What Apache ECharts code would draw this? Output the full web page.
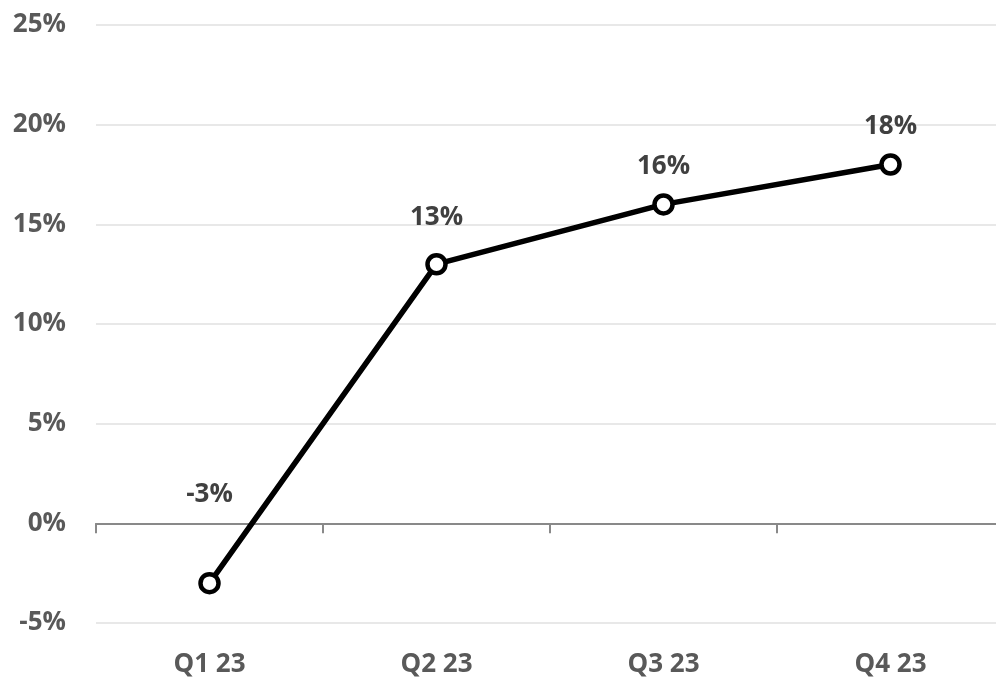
<!DOCTYPE html>
<html>
<head>
<meta charset="utf-8">
<script src="https://cdn.jsdelivr.net/npm/echarts@6/dist/echarts.min.js"></script>
<style>
  html, body { margin: 0; padding: 0; background: #fff; }
  #main { width: 996px; height: 680px; }
</style>
</head>
<body>
<div id="main"></div>
<script>
const categories = ['Q1 23', 'Q2 23', 'Q3 23', 'Q4 23'];
const growth = [-3, 13, 16, 18];
// extra label gap above a point (px)
const labelGaps = [64, 22, 14, 14];

const font = '"Open Sans", "DejaVu Sans", sans-serif';

const chart = echarts.init(document.getElementById('main'));

chart.setOption({
  animation: false,
  grid: { left: 96, right: -8, top: 25, bottom: 57, outerBoundsMode: 'none' },
  xAxis: [{
    type: 'category',
    data: categories,
    axisLine: { onZero: true, lineStyle: { color: '#898989', width: 2 } },
    axisTick: { show: true, length: 10, lineStyle: { color: '#898989', width: 2 } },
    axisLabel: { show: false },
    splitLine: { show: false }
  }, {
    type: 'category',
    data: categories,
    position: 'bottom',
    axisLine: { show: false },
    axisTick: { show: false },
    axisLabel: {
      margin: 29,
      color: '#595959',
      fontFamily: font,
      fontWeight: 'bold',
      fontSize: 26
    }
  }],
  yAxis: {
    type: 'value',
    min: -5,
    max: 25,
    interval: 5,
    axisLine: { show: false },
    axisTick: { show: false },
    axisLabel: {
      margin: 30,
      color: '#595959',
      fontFamily: font,
      fontWeight: 'bold',
      fontSize: 26,
      formatter: v => v + '%'
    },
    splitLine: { lineStyle: { color: '#e0e0e0', width: 1.5 } }
  },
  series: [{
    type: 'line',
    xAxisIndex: 0,
    data: growth.map((v, i) => ({
      value: v,
      label: { distance: labelGaps[i] }
    })),
    symbol: 'circle',
    symbolSize: 18,
    itemStyle: { color: '#fff', borderColor: '#000', borderWidth: 4.5 },
    lineStyle: { color: '#000', width: 5.5 },
    label: {
      show: true,
      position: 'top',
      color: '#404040',
      fontFamily: font,
      fontWeight: 'bold',
      fontSize: 26,
      formatter: p => p.value + '%'
    },
    z: 5
  }]
});
</script>
</body>
</html>
